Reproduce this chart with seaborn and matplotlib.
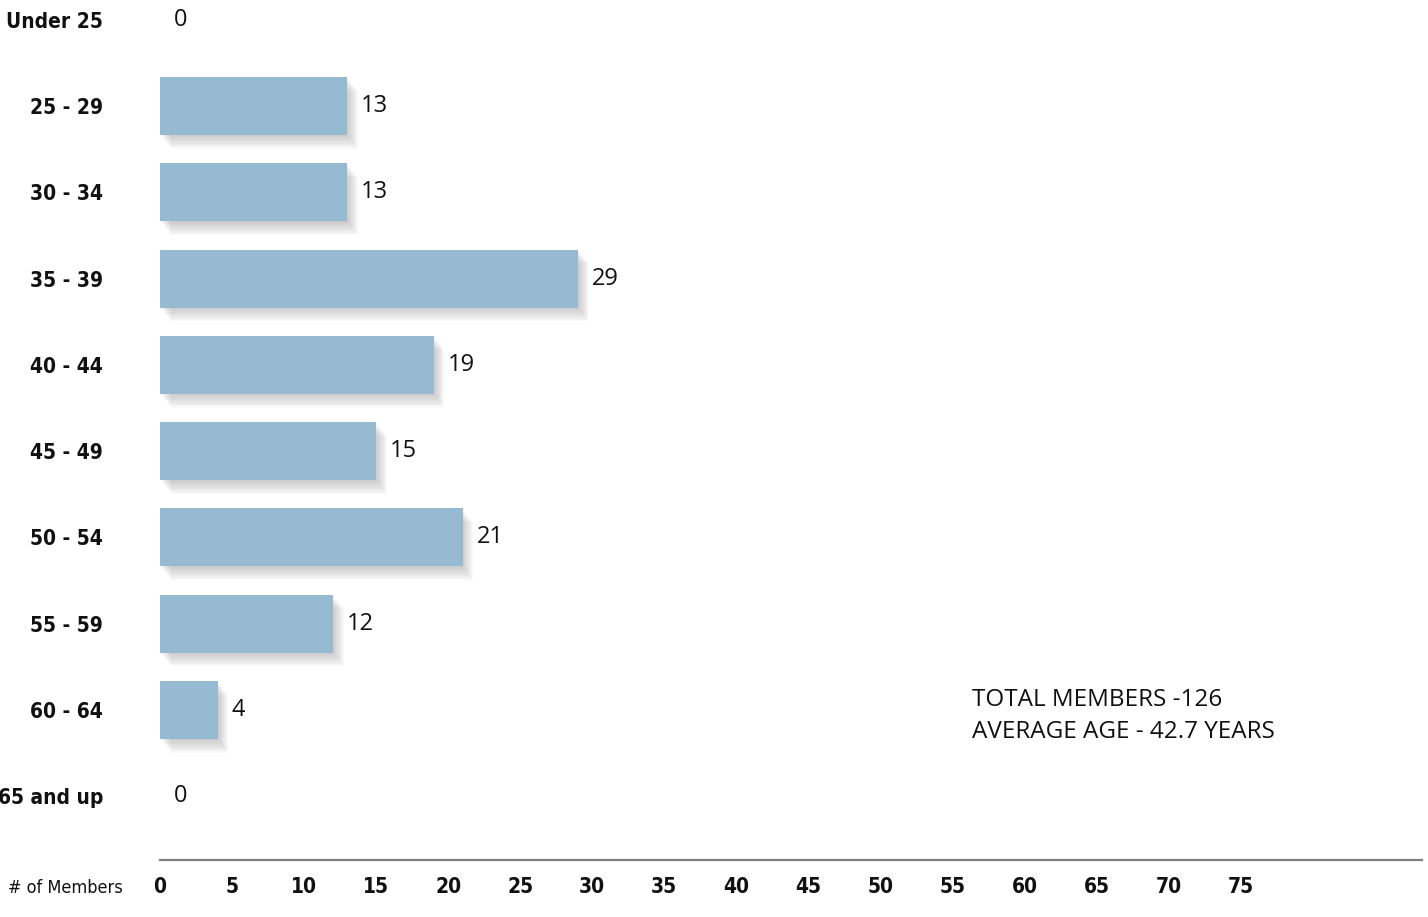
import matplotlib
matplotlib.use("Agg")
import matplotlib.pyplot as plt
import matplotlib.patheffects as pe
import seaborn as sns
import pandas as pd

categories = ["Under 25", "25 - 29", "30 - 34", "35 - 39", "40 - 44", "45 - 49",
              "50 - 54", "55 - 59", "60 - 64", "65 and up"]
members = [0, 13, 13, 29, 19, 15, 21, 12, 4, 0]
x_ticks = list(range(0, 80, 5))
note_lines = ["TOTAL MEMBERS -126", "AVERAGE AGE - 42.7 YEARS"]
x_caption = "# of Members"

df = pd.DataFrame({"age": categories, "members": members})

sns.set_theme(style="white")
narrow = ["DejaVu Sans"]
plain = ["Open Sans", "DejaVu Sans"]

W, H = 1428, 917
fig = plt.figure(figsize=(W / 100, H / 100), dpi=100)
ax = fig.add_axes([160 / W, 1 - 860 / H, (1422 - 160) / W, 860 / H])

sns.barplot(data=df, y="age", x="members", order=categories, orient="h",
            color="#97bad3", saturation=1, width=0.67, ax=ax)

shadow = [pe.SimplePatchShadow(offset=(k * 0.7, -k * 0.9), shadow_rgbFace="#8a8a8a", alpha=0.045)
          for k in range(11, 0, -1)]
for p in ax.patches:
    p.set_path_effects(shadow + [pe.Normal()])
    p.set_edgecolor("none")

for i, v in enumerate(members):
    ax.annotate(str(v), xy=(v, i), xytext=(10, 0), textcoords="offset points",
                ha="left", va="center", fontsize=17, family=plain, color="#111111")

ax.set_xlim(0, 87.6)
ax.set_ylim(9.74, -0.23)
ax.set_xticks(x_ticks)
ax.set_xticklabels([str(t) for t in x_ticks], family=narrow, fontweight="bold",
                   fontstretch="condensed", fontsize=15, color="#111111")
ax.set_yticks(range(len(categories)))
ax.set_yticklabels(categories, family=narrow, fontweight="bold", fontstretch="condensed",
                   fontsize=15, color="#111111")
ax.tick_params(axis="y", length=0, pad=41)
ax.tick_params(axis="x", length=0, pad=12)
ax.set_xlabel("")
ax.set_ylabel("")
for s in ["top", "right", "left"]:
    ax.spines[s].set_visible(False)
ax.spines["bottom"].set_color("#808080")
ax.spines["bottom"].set_linewidth(1.6)

fig.text(8 / W, 1 - 888 / H, x_caption, family=narrow, fontstretch="condensed", fontsize=13,
         color="#111111", ha="left", va="center")
fig.text(972 / W, 1 - 700 / H, note_lines[0], family=plain, fontsize=17.5, color="#111111",
         ha="left", va="center")
fig.text(972 / W, 1 - 732 / H, note_lines[1], family=plain, fontsize=17.5, color="#111111",
         ha="left", va="center")

fig.savefig("out.png", dpi=100, facecolor="white")
